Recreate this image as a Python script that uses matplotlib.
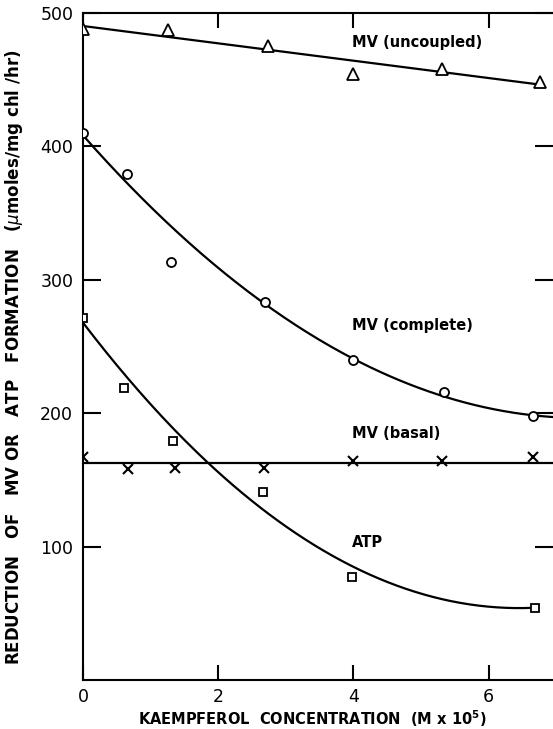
import numpy as np
from matplotlib import pyplot as plt

# concentration values (M x 10^5) and rates
x_uncoupled = [0, 1.26, 2.74, 3.99, 5.31, 6.76]
y_uncoupled = [488, 487.5, 475, 454, 458, 448.5]

x_complete = [0, 0.65, 1.30, 2.69, 4.0, 5.34, 6.66]
y_complete = [410, 379, 313, 283, 240, 216, 198]

x_basal = [0, 0.67, 1.36, 2.68, 4.0, 5.31, 6.66]
y_basal = [167, 158, 159, 159, 164, 164, 167]

x_atp = [0, 0.61, 1.33, 2.66, 3.98, 6.69]
y_atp = [271, 219, 179, 141, 77, 54]

# points
curve_complete_x = [0, 1.3, 2.69, 4.0, 5.34, 6.66]
curve_complete_y = [410, 336, 285, 240, 213, 198]
curve_atp_x = [0, 1.85, 2.66, 4.0, 6.69]
curve_atp_y = [268, 163.5, 126, 86, 54]

fig = plt.figure(figsize=(5.53, 7.29), dpi=100)
ax = fig.add_axes([0.150, 0.0672, 0.85, 0.915])

lw = 1.6
mk = dict(mfc='white', mec='black', mew=1.3, ls='none', zorder=3)

# fitted lines
xs = np.linspace(0, x_uncoupled[-1], 100)
p = np.polyfit(x_uncoupled, y_uncoupled, 1)
ax.plot(xs, np.polyval(p, xs), color='black', lw=lw)

xs = np.linspace(0, 6.95, 200)
p = np.polyfit(curve_complete_x, curve_complete_y, 2)
ax.plot(xs, np.polyval(p, xs), color='black', lw=lw)

ax.plot([0, 6.95], [np.mean(y_basal)] * 2, color='black', lw=lw)

xs = np.linspace(0, x_atp[-1], 200)
p = np.polyfit(curve_atp_x, curve_atp_y, 2)
ax.plot(xs, np.polyval(p, xs), color='black', lw=lw)

# data points
ax.plot(x_uncoupled, y_uncoupled, marker='^', ms=8, **mk)
ax.plot(x_complete, y_complete, marker='o', ms=6.5, **mk)
ax.plot(x_basal, y_basal, marker='x', ms=7, color='black', mew=1.5, ls='none', zorder=3)
ax.plot(x_atp, y_atp, marker='s', ms=5.5, **mk)

# curve labels
lab = dict(fontsize=10.5, fontweight='bold', ha='left', va='center')
ax.text(3.98, 478, 'MV (uncoupled)', **lab)
ax.text(3.98, 265.5, 'MV (complete)', **lab)
ax.text(3.98, 184.5, 'MV (basal)', **lab)
ax.text(3.98, 103, 'ATP', **lab)

ax.set_xlim(0, 6.95)
ax.set_ylim(0, 500)
ax.spines['right'].set_visible(False)
for s in ['left', 'bottom', 'top']:
    ax.spines[s].set_linewidth(1.5)

ax.set_xticks([0, 2, 4, 6])
ax.set_yticks([100, 200, 300, 400, 500])
ax.tick_params(axis='both', direction='in', length=11, width=1.5,
               labelsize=12.5, pad=7, top=True, right=True)
ax.tick_params(axis='y', length=13)
ax.tick_params(axis='x', pad=6)

fig.text(0.564, 0.014, r'KAEMPFEROL  CONCENTRATION  (M x 10$^\mathbf{5}$)',
         fontsize=10.5, fontweight='bold', ha='center', va='center')
fig.text(0.025, 0.51, r'REDUCTION   OF   MV OR   ATP   FORMATION   ($\mu$moles/mg chl /hr)',
         rotation=90, fontsize=12, fontweight='bold', ha='center', va='center')

fig.savefig('out.png', dpi=100)
